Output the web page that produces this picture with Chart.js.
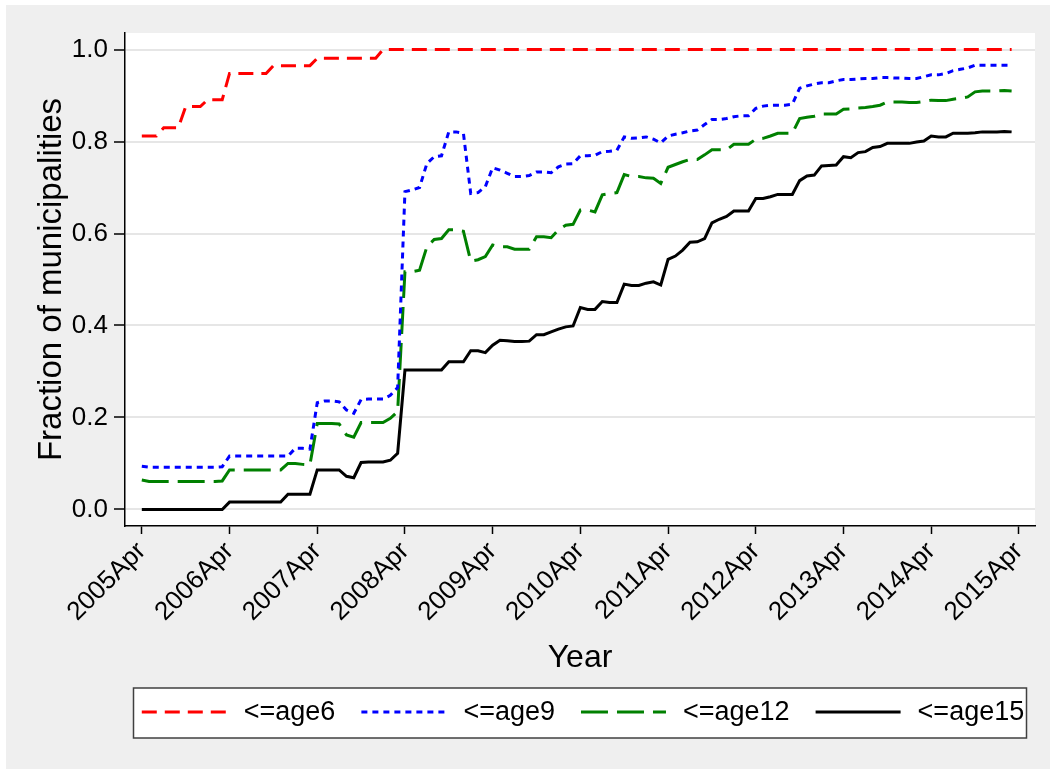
<!DOCTYPE html>
<html lang="ja">
<head>
<meta charset="UTF-8">
<title>Fraction of municipalities</title>
<script src="https://cdn.jsdelivr.net/npm/chart.js@4.4.1/dist/chart.umd.min.js"></script>
<style>
  html, body { margin: 0; padding: 0; background: #fff; }
  #wrap { width: 1050px; height: 769px; }
</style>
</head>
<body>
<div id="wrap"><canvas id="coverageChart" width="1050" height="769"></canvas></div>
<script>
// 月次データ：2005年4月〜2015年3月（1行 = 4月〜翌3月）
const age6 = [
  0.812, 0.812, 0.812, 0.830, 0.830, 0.830, 0.876, 0.876, 0.876, 0.891, 0.891, 0.891,
  0.948, 0.948, 0.948, 0.948, 0.948, 0.948, 0.965, 0.965, 0.965, 0.965, 0.965, 0.965,
  0.981, 0.981, 0.981, 0.981, 0.981, 0.981, 0.981, 0.981, 0.981, 1, 1, 1,
  1, 1, 1, 1, 1, 1, 1, 1, 1, 1, 1, 1,
  1, 1, 1, 1, 1, 1, 1, 1, 1, 1, 1, 1,
  1, 1, 1, 1, 1, 1, 1, 1, 1, 1, 1, 1,
  1, 1, 1, 1, 1, 1, 1, 1, 1, 1, 1, 1,
  1, 1, 1, 1, 1, 1, 1, 1, 1, 1, 1, 1,
  1, 1, 1, 1, 1, 1, 1, 1, 1, 1, 1, 1,
  1, 1, 1, 1, 1, 1, 1, 1, 1, 1, 1, 1
];

const age9 = [
  0.094, 0.092, 0.092, 0.092, 0.092, 0.092, 0.092, 0.092, 0.092, 0.092, 0.092, 0.093,
  0.116, 0.116, 0.116, 0.116, 0.116, 0.116, 0.116, 0.116, 0.116, 0.133, 0.133, 0.131,
  0.232, 0.236, 0.236, 0.234, 0.216, 0.209, 0.239, 0.240, 0.240, 0.240, 0.248, 0.265,
  0.691, 0.695, 0.700, 0.752, 0.767, 0.769, 0.821, 0.821, 0.818, 0.687, 0.689, 0.702,
  0.743, 0.738, 0.731, 0.724, 0.724, 0.726, 0.734, 0.734, 0.732, 0.745, 0.751, 0.752,
  0.769, 0.769, 0.770, 0.778, 0.779, 0.781, 0.810, 0.807, 0.808, 0.810, 0.805, 0.797,
  0.812, 0.816, 0.819, 0.823, 0.825, 0.837, 0.848, 0.848, 0.850, 0.854, 0.856, 0.856,
  0.872, 0.877, 0.879, 0.879, 0.879, 0.881, 0.916, 0.921, 0.925, 0.928, 0.928, 0.932,
  0.935, 0.935, 0.936, 0.937, 0.937, 0.939, 0.939, 0.938, 0.938, 0.937, 0.937, 0.941,
  0.945, 0.945, 0.948, 0.954, 0.957, 0.960, 0.966, 0.966, 0.966, 0.966, 0.966, 0.966
];

const age12 = [
  0.064, 0.061, 0.061, 0.061, 0.061, 0.061, 0.061, 0.061, 0.061, 0.061, 0.061, 0.062,
  0.086, 0.086, 0.086, 0.086, 0.086, 0.086, 0.086, 0.086, 0.100, 0.100, 0.098, 0.097,
  0.187, 0.187, 0.187, 0.186, 0.162, 0.157, 0.189, 0.189, 0.189, 0.189, 0.198, 0.213,
  0.517, 0.517, 0.520, 0.571, 0.587, 0.589, 0.608, 0.608, 0.605, 0.540, 0.543, 0.550,
  0.575, 0.571, 0.571, 0.566, 0.566, 0.566, 0.593, 0.593, 0.591, 0.608, 0.618, 0.620,
  0.651, 0.651, 0.647, 0.684, 0.687, 0.689, 0.728, 0.724, 0.724, 0.721, 0.720, 0.709,
  0.744, 0.750, 0.756, 0.761, 0.761, 0.771, 0.782, 0.782, 0.782, 0.794, 0.794, 0.794,
  0.805, 0.807, 0.812, 0.818, 0.818, 0.818, 0.850, 0.853, 0.855, 0.860, 0.860, 0.860,
  0.870, 0.871, 0.873, 0.874, 0.876, 0.879, 0.886, 0.886, 0.886, 0.885, 0.885, 0.887,
  0.890, 0.889, 0.889, 0.892, 0.894, 0.897, 0.908, 0.910, 0.910, 0.910, 0.911, 0.910
];

const age15 = [
  0, 0, 0, 0, 0, 0, 0, 0, 0, 0, 0, 0,
  0.016, 0.016, 0.016, 0.016, 0.016, 0.016, 0.016, 0.016, 0.033, 0.033, 0.033, 0.033,
  0.086, 0.086, 0.086, 0.086, 0.072, 0.069, 0.102, 0.103, 0.103, 0.103, 0.107, 0.122,
  0.303, 0.303, 0.303, 0.303, 0.303, 0.303, 0.321, 0.321, 0.321, 0.345, 0.345, 0.341,
  0.357, 0.368, 0.367, 0.365, 0.365, 0.366, 0.380, 0.380, 0.386, 0.392, 0.397, 0.399,
  0.439, 0.435, 0.435, 0.452, 0.450, 0.450, 0.490, 0.487, 0.487, 0.492, 0.495, 0.488,
  0.544, 0.551, 0.564, 0.581, 0.582, 0.589, 0.623, 0.631, 0.637, 0.649, 0.649, 0.649,
  0.676, 0.676, 0.680, 0.685, 0.685, 0.685, 0.715, 0.725, 0.727, 0.747, 0.748, 0.749,
  0.767, 0.765, 0.776, 0.778, 0.787, 0.789, 0.796, 0.796, 0.796, 0.796, 0.799, 0.801,
  0.812, 0.810, 0.810, 0.818, 0.818, 0.818, 0.819, 0.821, 0.821, 0.821, 0.822, 0.821
];

const seriesLabels = ['<=age6', '<=age9', '<=age12', '<=age15'];

// X軸の目盛り（2005年4月からの月数）とラベル
const tickMonths = [0, 12, 24, 36, 48, 60, 72, 84, 96, 108, 120];
const tickLabels = ['2005Apr', '2006Apr', '2007Apr', '2008Apr', '2009Apr', '2010Apr',
  '2011Apr', '2012Apr', '2013Apr', '2014Apr', '2015Apr'];
const yTicks = [0, 0.2, 0.4, 0.6, 0.8, 1.0];

Chart.defaults.font.family = '"Liberation Sans", Arial, Helvetica, sans-serif';
Chart.defaults.color = '#000';

// 月番号つきの点に変換
function toPoints(values) {
  return values.map((v, i) => ({ x: i, y: v }));
}

// 背景（外枠グレー＋プロット領域の白）
const backgroundPlugin = {
  id: 'stataBackground',
  beforeDraw(chart) {
    const { ctx, chartArea: a } = chart;
    ctx.save();
    ctx.fillStyle = '#ffffff';
    ctx.fillRect(0, 0, chart.width, chart.height);
    ctx.fillStyle = '#efefef';
    ctx.fillRect(6, 5, chart.width - 6, chart.height - 5);
    ctx.fillStyle = '#ffffff';
    ctx.fillRect(a.left, a.top, a.right - a.left, a.bottom - a.top);
    ctx.restore();
  }
};

// 枠付きの凡例（下部中央）
const boxedLegendPlugin = {
  id: 'boxedLegend',
  afterDraw(chart) {
    const { ctx, chartArea: a } = chart;
    const boxW = 893;
    const boxH = 50;
    const boxLeft = (a.left + a.right) / 2 - boxW / 2;
    const boxTop = 688;
    const lineLen = 85;
    const textGap = 17;
    const itemGap = 26;
    const midY = boxTop + boxH / 2;

    ctx.save();
    ctx.fillStyle = '#ffffff';
    ctx.fillRect(boxLeft, boxTop, boxW, boxH);
    ctx.strokeStyle = '#404040';
    ctx.lineWidth = 1.5;
    ctx.strokeRect(boxLeft, boxTop, boxW, boxH);

    ctx.font = '27px "Liberation Sans", Arial, sans-serif';
    ctx.textBaseline = 'middle';
    ctx.textAlign = 'left';

    const datasets = chart.data.datasets;
    const widths = datasets.map(ds => ctx.measureText(ds.label).width);
    const rowW = widths.reduce((s, w) => s + lineLen + textGap + w, 0) + itemGap * (datasets.length - 1);
    let x = boxLeft + (boxW - rowW) / 2 + 3;

    datasets.forEach((ds, i) => {
      ctx.beginPath();
      ctx.setLineDash(ds.borderDash || []);
      ctx.strokeStyle = ds.borderColor;
      ctx.lineWidth = ds.borderWidth;
      ctx.lineCap = 'butt';
      ctx.moveTo(x, midY - 1);
      ctx.lineTo(x + lineLen, midY - 1);
      ctx.stroke();
      ctx.setLineDash([]);
      ctx.fillStyle = '#000';
      ctx.fillText(ds.label, x + lineLen + textGap, midY);
      x += lineLen + textGap + widths[i] + itemGap;
    });
    ctx.restore();
  }
};

const ctx = document.getElementById('coverageChart').getContext('2d');

new Chart(ctx, {
  type: 'line',
  data: {
    datasets: [
      { label: seriesLabels[0], data: toPoints(age6), borderColor: '#ff0000', borderDash: [15, 8], borderWidth: 3 },
      { label: seriesLabels[1], data: toPoints(age9), borderColor: '#0000ff', borderDash: [6, 5], borderWidth: 3 },
      { label: seriesLabels[2], data: toPoints(age12), borderColor: '#008000', borderDash: [27, 9], borderWidth: 3 },
      { label: seriesLabels[3], data: toPoints(age15), borderColor: '#000000', borderWidth: 3 }
    ]
  },
  options: {
    responsive: false,
    animation: false,
    devicePixelRatio: 1,
    layout: { padding: { left: 6, top: 33, right: 15, bottom: 89 } },
    elements: {
      point: { radius: 0 },
      line: { tension: 0, fill: false, borderCapStyle: 'butt' }
    },
    plugins: {
      legend: { display: false },
      tooltip: { enabled: false }
    },
    scales: {
      x: {
        type: 'linear',
        min: -2.3,
        max: 122.2,
        afterBuildTicks: scale => { scale.ticks = tickMonths.map(v => ({ value: v })); },
        afterFit: scale => { scale.height = 154; },
        grid: { drawOnChartArea: false, tickLength: 8, tickColor: '#000', tickWidth: 1.5 },
        border: { color: '#000', width: 1.5 },
        ticks: {
          autoSkip: false,
          minRotation: 45,
          maxRotation: 45,
          padding: 2,
          font: { size: 26 },
          callback: value => tickLabels[tickMonths.indexOf(value)]
        },
        title: { display: true, text: 'Year', font: { size: 32 }, padding: { top: 0, bottom: 3 } }
      },
      y: {
        min: -0.036,
        max: 1.036,
        afterBuildTicks: scale => { scale.ticks = yTicks.map(v => ({ value: v })); },
        afterFit: scale => { scale.width = 119; },
        grid: { color: '#e6e6e6', lineWidth: 2, tickLength: 11, tickColor: '#000', tickWidth: 1.5 },
        border: { color: '#000', width: 1.5 },
        ticks: {
          padding: 6,
          font: { size: 26 },
          callback: value => value.toFixed(1)
        },
        title: { display: true, text: 'Fraction of municipalities', font: { size: 33 }, padding: { top: 26, bottom: 0 } }
      }
    }
  },
  plugins: [backgroundPlugin, boxedLegendPlugin]
});
</script>
</body>
</html>
